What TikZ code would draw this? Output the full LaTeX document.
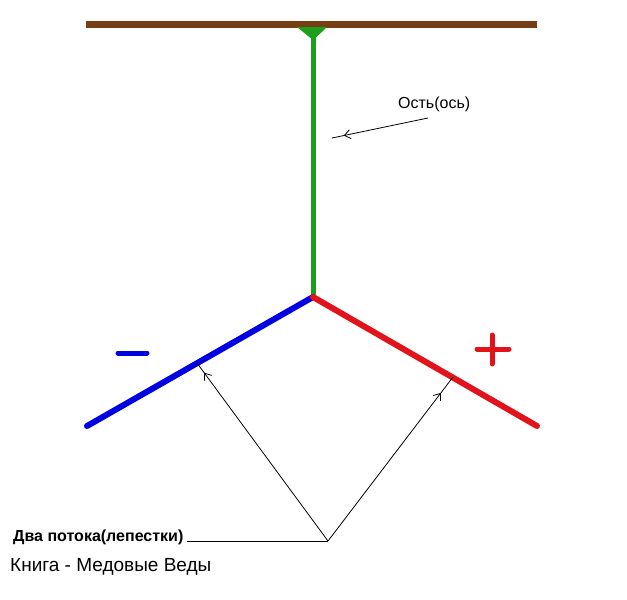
\documentclass[tikz,border=0pt]{standalone}
\usepackage{fontspec}
\setmainfont{Liberation Sans}
\usetikzlibrary{arrows.meta,decorations.markings}
\definecolor{rodbrown}{RGB}{118,62,18}
\definecolor{axgreen}{RGB}{28,160,28}
\definecolor{flowblue}{RGB}{0,0,225}
\definecolor{flowred}{RGB}{225,20,28}
\tikzset{
  rod/.style={draw=rodbrown,line width=7pt},
  axis/.style={draw=axgreen,line width=5pt},
  petal/.style={line width=6pt,line cap=round},
  sign/.style={line width=5pt,line cap=round},
  pointer/.style={draw=black,line width=0.8pt,postaction={decorate},
    decoration={markings,mark=at position #1 with {\arrow{Straight Barb[length=6pt,width=9pt]}}}},
  pointer/.default={-12pt},
  lbl/.style={inner sep=0pt,font=\fontsize{16}{18}\selectfont},
}
\begin{document}
\begin{tikzpicture}[x=1pt,y=-1pt]
  \useasboundingbox (0,0) rectangle (627,600);
  % points
  \coordinate (barL) at (86,24);
  \coordinate (barR) at (537,24);
  \coordinate (axTop) at (313,30);
  \coordinate (hub) at (313,297);
  \coordinate (minusEnd) at (87,426);
  \coordinate (plusEnd) at (537,426);
  \coordinate (foot) at (328,541);
  \coordinate (hitL) at (197,363);
  \coordinate (hitR) at (453,377);
  \coordinate (axHit) at (332,138);
  \coordinate (axTail) at (428,118);
  % rod and axis
  \draw[rod] (barL) -- (barR);
  \draw[axis] (axTop) -- (hub);
  \fill[axgreen] (297,27) -- (327,27) -- (315.5,38) -- (310.5,38) -- cycle;
  % petals
  \draw[petal,flowblue] (minusEnd) -- (hub);
  \draw[petal,flowred] (hub) -- (plusEnd);
  % signs
  \draw[sign,flowblue] (118,353) -- (147,353);
  \draw[sign,flowred] (477,349) -- (509,349);
  \draw[sign,flowred] (492,335) -- (492,364);
  % labels
  \node[lbl,anchor=west] (axLbl) at (398,104) {Ость(ось)};
  \node[lbl,anchor=base west,font=\bfseries\fontsize{16}{18}\selectfont] (flows) at (13,541) {Два потока(лепестки)};
  \node[lbl,anchor=base west,font=\fontsize{19}{22}\selectfont] (book) at (10,571) {Книга - Медовые Веды};
  % pointers
  \draw[pointer] (axTail) -- (axHit);
  \draw[line width=0.8pt] (flows.base east) ++(3,0) -- (foot);
  \draw[pointer] (foot) -- (hitL);
  \draw[pointer=-20pt] (foot) -- (hitR);
\end{tikzpicture}
\end{document}
